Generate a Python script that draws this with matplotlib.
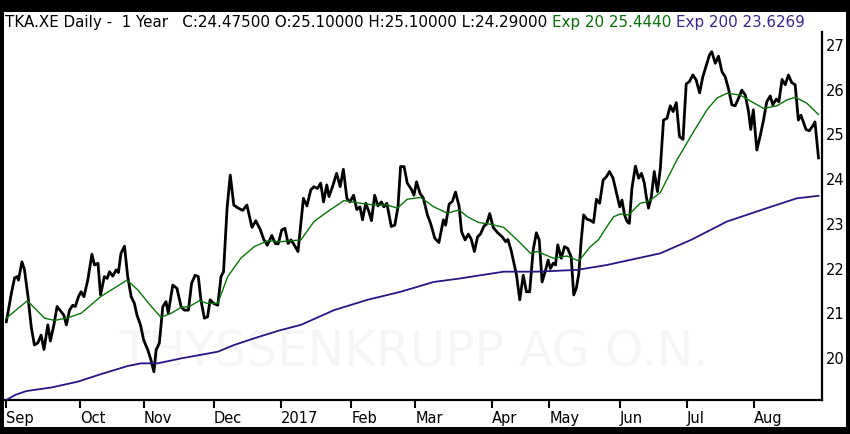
import matplotlib
matplotlib.use("Agg")
import matplotlib.pyplot as plt
from matplotlib.patches import Rectangle

# TKA.XE daily closes (trading-day number, price)
close_day = [0.0, 0.5, 1.6, 2.6, 3.4, 3.8, 4.9, 5.7, 6.8, 7.8, 8.8, 9.9, 10.9, 11.8, 13.0, 13.8,
             14.9, 15.9, 17.2, 18.0, 18.8, 19.8, 20.8, 21.6, 22.6, 23.4, 24.3, 25.5, 26.8, 27.6,
             28.7, 29.5, 30.7, 31.6, 32.3, 33.3, 34.4, 35.1, 35.9, 37.0, 38.0, 39.1, 40.1, 40.9,
             42.0, 43.0, 44.3, 45.3, 46.2, 46.9, 47.9, 49.0, 50.0, 50.7, 52.1, 53.4, 54.7, 55.7,
             57.0, 58.0, 59.1, 60.1, 60.9, 62.0, 63.0, 63.8, 64.9, 66.2, 67.2, 68.0, 69.1, 70.1,
             71.2, 72.4, 74.0, 75.3, 76.9, 78.1, 79.5, 80.6, 81.7, 83.1, 84.2, 85.1, 86.2, 87.2,
             88.2, 89.1, 90.1, 91.3, 93.0, 94.1, 95.3, 96.3, 97.4, 98.4, 99.3, 100.3, 101.0, 102.1,
             103.4, 104.5, 105.5, 106.6, 107.6, 108.7, 109.7, 110.7, 111.5, 112.5, 113.5, 114.3,
             115.3, 116.3, 117.4, 118.2, 119.1, 120.5, 121.6, 122.6, 123.4, 124.5, 125.5, 126.8,
             127.6, 128.4, 129.5, 130.5, 131.8, 132.8, 134.1, 135.4, 136.8, 137.5, 138.6, 139.6,
             140.6, 141.7, 142.5, 143.6, 144.6, 145.5, 146.5, 147.5, 148.4, 149.5, 150.3, 151.3,
             152.4, 153.8, 155.2, 156.3, 157.0, 158.0, 158.8, 159.7, 160.7, 161.8, 162.8, 163.8,
             164.9, 165.9, 166.8, 167.7, 168.8, 169.6, 170.3, 171.2, 171.9, 172.6, 173.7, 174.7,
             175.7, 176.8, 177.6, 178.4, 179.2, 179.9, 180.7, 181.8, 182.8, 183.8, 184.7, 185.7,
             186.8, 187.8, 188.8, 189.9, 190.9, 192.0, 192.7, 193.5, 194.3, 195.0, 195.8, 196.9,
             197.9, 198.8, 199.7, 200.3, 201.0, 201.9, 202.8, 203.8, 204.7, 205.7, 206.8, 207.8,
             208.7, 209.7, 210.7, 211.8, 212.8, 213.8, 214.9, 215.9, 217.0, 218.0, 219.1, 220.1,
             220.8, 221.9, 222.9, 224.0, 225.0, 226.0, 227.1, 228.1, 229.2, 230.2, 231.3, 232.3,
             233.0, 233.8, 234.9, 235.9, 237.0, 238.0, 239.1, 239.9, 241.0, 241.8, 242.8, 243.8,
             244.8, 245.8, 246.9, 247.9, 248.7, 249.3, 250.3, 251.3, 252.4, 253.1, 254.2]
close_px = [20.81, 21.00, 21.45, 21.79, 21.82, 21.74, 22.15, 21.97, 21.37, 20.70, 20.29, 20.34,
            20.51, 20.19, 20.74, 20.38, 20.74, 21.15, 21.03, 20.96, 20.74, 21.07, 21.18, 21.15,
            21.37, 21.48, 21.37, 21.74, 22.32, 22.08, 22.12, 21.41, 21.82, 21.78, 21.93, 21.83,
            21.97, 21.91, 22.34, 22.50, 21.82, 21.37, 21.22, 20.96, 20.74, 20.40, 20.18, 19.95,
            19.69, 20.18, 20.33, 21.15, 21.26, 21.00, 21.63, 21.56, 21.15, 21.07, 21.07, 21.67,
            21.85, 21.82, 21.30, 20.89, 20.92, 21.30, 21.22, 21.18, 21.82, 21.93, 23.35, 24.09,
            23.42, 23.36, 23.30, 23.42, 22.92, 23.07, 22.87, 22.65, 22.52, 22.74, 22.56, 22.55,
            22.86, 22.90, 22.56, 22.64, 22.53, 22.38, 23.57, 23.40, 23.76, 23.83, 23.79, 23.91,
            23.49, 23.87, 23.61, 23.83, 24.13, 23.83, 24.22, 23.57, 23.49, 23.64, 23.32, 23.38,
            23.09, 23.46, 23.27, 23.07, 23.64, 23.40, 23.49, 23.38, 23.46, 22.94, 22.97, 23.38,
            24.28, 24.28, 23.91, 23.77, 23.64, 23.94, 23.68, 23.58, 23.20, 23.01, 22.68, 22.58,
            23.09, 22.97, 23.44, 23.50, 23.71, 23.40, 22.82, 22.64, 22.77, 22.66, 22.38, 22.71,
            22.77, 22.95, 22.99, 23.23, 22.92, 22.80, 22.71, 22.60, 22.65, 22.41, 22.15, 21.85,
            21.30, 21.85, 21.48, 21.48, 22.41, 22.80, 22.64, 21.70, 21.97, 22.19, 22.00, 22.12,
            22.08, 22.53, 22.23, 22.49, 22.45, 22.26, 21.41, 21.56, 21.89, 22.60, 23.20, 23.10,
            23.08, 23.03, 23.55, 23.46, 23.98, 24.05, 24.17, 24.02, 23.72, 23.38, 23.53, 23.20,
            23.05, 23.01, 23.79, 24.29, 24.02, 24.13, 23.91, 23.61, 23.35, 23.61, 24.17, 23.72,
            24.24, 25.32, 25.36, 25.64, 25.51, 25.71, 24.95, 24.89, 26.13, 26.18, 26.33, 26.22,
            25.93, 26.29, 26.55, 26.78, 26.85, 26.59, 26.75, 26.40, 26.29, 26.03, 25.66, 25.64,
            25.81, 25.99, 25.88, 25.51, 25.11, 25.55, 24.65, 24.95, 25.32, 25.73, 25.86, 25.66,
            25.79, 25.73, 26.23, 26.11, 26.33, 26.16, 26.11, 25.32, 25.43, 25.31, 25.11, 25.08,
            25.19, 25.28, 24.475]

# exponential moving averages
ema20_day = [0.0, 6.6, 8.8, 12.0, 15.1, 19.3, 23.4, 29.7, 34.4, 37.8, 41.2, 45.3, 48.4, 51.6,
             54.7, 57.3, 60.4, 63.0, 66.2, 69.3, 73.4, 77.6, 81.8, 85.7, 92.2, 96.3, 100.5,
             105.7, 109.9, 115.1, 119.3, 122.4, 125.5, 129.7, 133.8, 138.0, 141.7, 144.3, 147.8,
             151.6, 155.7, 159.9, 164.1, 166.2, 171.3, 175.5, 179.2, 182.8, 185.4, 188.0, 190.1,
             192.2, 194.8, 198.4, 200.5, 201.6, 204.7, 209.9, 215.1, 219.3, 222.4, 225.5, 229.7,
             233.8, 237.0, 241.2, 244.3, 246.9, 250.5, 254.2]
ema20 = [20.89, 21.28, 21.12, 20.89, 20.84, 20.90, 21.00, 21.38, 21.59, 21.74, 21.52, 21.16,
         20.91, 21.00, 21.13, 21.15, 21.28, 21.22, 21.22, 21.82, 22.23, 22.49, 22.62, 22.60,
         22.64, 23.05, 23.27, 23.52, 23.47, 23.42, 23.42, 23.35, 23.55, 23.59, 23.38, 23.24,
         23.31, 23.16, 23.03, 22.99, 22.92, 22.64, 22.34, 22.38, 22.23, 22.28, 22.17, 22.49,
         22.65, 22.94, 23.16, 23.22, 23.20, 23.46, 23.49, 23.53, 23.70, 24.43, 25.06, 25.55,
         25.81, 25.92, 25.88, 25.71, 25.58, 25.64, 25.77, 25.83, 25.70, 25.444]

ema200_day = [0.0, 3.0, 6.3, 14.1, 22.4, 29.7, 38.0, 42.2, 47.4, 54.7, 66.2, 71.3, 77.6, 85.7,
              92.2, 102.6, 113.0, 123.4, 133.8, 142.2, 148.4, 155.7, 166.2, 178.7, 188.0, 204.7,
              214.6, 225.5, 238.0, 247.4, 254.2]
ema200 = [19.06, 19.18, 19.26, 19.34, 19.47, 19.64, 19.82, 19.88, 19.88, 19.99, 20.14, 20.29,
          20.44, 20.62, 20.74, 21.07, 21.30, 21.48, 21.70, 21.78, 21.85, 21.93, 21.93, 21.97,
          22.08, 22.34, 22.65, 23.05, 23.35, 23.57, 23.6269]

month_day = [0, 23, 43, 65, 86, 108, 128, 152, 170, 192, 213, 234]
month_lbl = ["Sep", "Oct", "Nov", "Dec", "2017", "Feb", "Mar", "Apr", "May", "Jun", "Jul", "Aug"]
price_ticks = [20, 21, 22, 23, 24, 25, 26, 27]

W, H = 850, 434
fig = plt.figure(figsize=(W / 100, H / 100), dpi=100, facecolor="black")
# white panel inside the black frame
fig.add_artist(Rectangle((4 / W, 1 - 427 / H), 842 / W, 415 / H,
                         transform=fig.transFigure, facecolor="white", edgecolor="none", zorder=0))

ax = fig.add_axes([5 / W, 1 - 400 / H, 817 / W, 368 / H])
ax.set_facecolor("white")

ax.text(0.5, 0.13, "THYSSENKRUPP AG O.N.", transform=ax.transAxes, ha="center", va="center",
        fontsize=35, color="#f5f5f5", zorder=0)

ax.plot(close_day, close_px, color="black", lw=2.0, zorder=3, solid_joinstyle="round")
ax.plot(ema20_day, ema20, color="#097309", lw=1.0, zorder=4)
ax.plot(ema200_day, ema200, color="#2a1485", lw=1.3, zorder=4)

ax.set_xlim(-0.4, 255.3)
ax.set_ylim(19.06, 27.29)

for s in ("left", "top"):
    ax.spines[s].set_visible(False)
for s in ("right", "bottom"):
    ax.spines[s].set_linewidth(1.6)
    ax.spines[s].set_color("black")

ax.yaxis.tick_right()
ax.set_yticks(price_ticks)
ax.set_yticklabels([str(v) for v in price_ticks])
ax.tick_params(axis="y", length=0, pad=3, labelsize=10.5)

ax.set_xticks(month_day)
ax.set_xticklabels(month_lbl, ha="left")
ax.tick_params(axis="x", length=6, width=1.5, pad=2, labelsize=10.5, direction="out")
for lab in ax.get_xticklabels():
    lab.set_horizontalalignment("left")

# header line, pieces in different colours
pieces = [("TKA.XE Daily -  1 Year   C:24.47500 O:25.10000 H:25.10000 L:24.29000 ", "black"),
          ("Exp 20 25.4440 ", "#0b6e0b"),
          ("Exp 200 23.6269", "#3b2590")]
renderer = fig.canvas.get_renderer()
x = 5 / W
for txt, col in pieces:
    t = fig.text(x, 1 - 23 / H, txt, color=col, fontsize=10.9, ha="left", va="center")
    bb = t.get_window_extent(renderer)
    x = bb.x1 / W

fig.savefig("out.png", dpi=100, facecolor="black")
